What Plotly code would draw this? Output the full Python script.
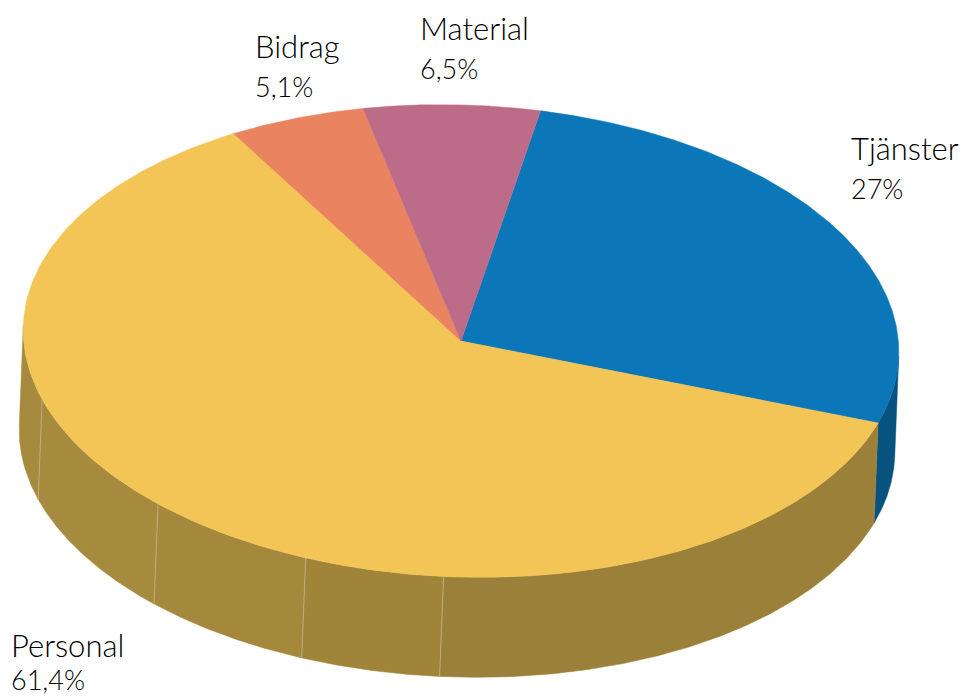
import numpy as np
import plotly.graph_objects as go

CATEGORIES = ["Tjänster", "Personal", "Bidrag", "Material"]
VALUES = [27, 61.4, 5.1, 6.5]
TOP_COLORS = ["#0b77b9", "#f2c556", "#e98360", "#bc6c88"]
SIDE_COLORS = ["#07527f", "#9b803a", "#a0592f", "#7f4a5e"]
LABEL_X = [849, 9, 253, 418]
LABEL_Y = [148, 645, 46, 28]
PCT_Y = [188, 679.5, 86, 68]

# Personal's side wall is split into facets, each a little lighter going left.
SEAM_ANGLES = [91.2, 109.7, 132.7, 162]
FACET_COLORS = ["#9b8039", "#9f843a", "#a4883c", "#a68b3e", "#a68b3e"]
SEAM_COLOR = "#c4b48a"

CX, CY, RX, RY, TILT = 461, 341, 438, 236, np.radians(2)
DX, DY = -4, 100
START = -80.6


def rim(t_deg, dx=0.0, dy=0.0):
    t = np.radians(t_deg)
    ex, ey = RX * np.cos(t), RY * np.sin(t)
    return (CX + ex * np.cos(TILT) - ey * np.sin(TILT) + dx,
            CY + ex * np.sin(TILT) + ey * np.cos(TILT) + dy)


def poly(fig, xs, ys, color):
    fig.add_trace(go.Scatter(x=xs, y=ys, mode="lines", fill="toself", fillcolor=color,
                             line=dict(color=color, width=0.5), hoverinfo="skip"))


# The wall is only seen between the two rim points where the extrusion direction is tangent.
grid = np.linspace(-90, 270, 7201)
gx, gy = rim(grid)
offset = (gx - gx.mean()) * DY - (gy - gy.mean()) * DX
VIS_A, VIS_B = grid[np.argmax(offset)], grid[np.argmin(offset)]


def wall(fig, a, b, color):
    a, b = max(a, VIS_A), min(b, VIS_B)
    if b <= a:
        return
    t = np.linspace(a, b, 200)
    x1, y1 = rim(t)
    x2, y2 = rim(t[::-1], DX, DY)
    poly(fig, np.r_[x1, x2, x1[0]], np.r_[y1, y2, y1[0]], color)


fig = go.Figure()
bounds = START + np.r_[0, np.cumsum(VALUES)] * 3.6

for i, cat in enumerate(CATEGORIES):
    a, b = bounds[i], bounds[i + 1]
    if cat == "Personal":
        edges = [a] + SEAM_ANGLES + [b]
        for j, col in enumerate(FACET_COLORS):
            wall(fig, edges[j], edges[j + 1], col)
    else:
        wall(fig, a, b, SIDE_COLORS[i])

for s in SEAM_ANGLES:
    x1, y1 = rim(s)
    x2, y2 = rim(s, DX, DY)
    fig.add_trace(go.Scatter(x=[x1, x2], y=[y1, y2], mode="lines",
                             line=dict(color=SEAM_COLOR, width=0.8), hoverinfo="skip"))

for i, cat in enumerate(CATEGORIES):
    t = np.linspace(bounds[i], bounds[i + 1], 300)
    x, y = rim(t)
    poly(fig, np.r_[CX, x, CX], np.r_[CY, y, CY], TOP_COLORS[i])

annotations = []
for cat, val, lx, ly, py in zip(CATEGORIES, VALUES, LABEL_X, LABEL_Y, PCT_Y):
    pct = f"{val:g}".replace(".", ",") + "%"
    for text, yy, size in ((cat, ly, 31), (pct, py, 27)):
        annotations.append(dict(x=lx, y=yy, text=text, showarrow=False, xanchor="left", yanchor="middle",
                                xref="x", yref="y",
                                font=dict(family="Lato", size=size, color="#000000", weight=300)))

fig.update_layout(
    width=964, height=697, margin=dict(l=0, r=0, t=0, b=0), showlegend=False,
    paper_bgcolor="white", plot_bgcolor="white", annotations=annotations,
    xaxis=dict(range=[0, 964], visible=False, fixedrange=True),
    yaxis=dict(range=[697, 0], visible=False, fixedrange=True),
)
fig.write_html("out.html", config={"displayModeBar": False},
               post_script="document.body.style.margin='0';")
